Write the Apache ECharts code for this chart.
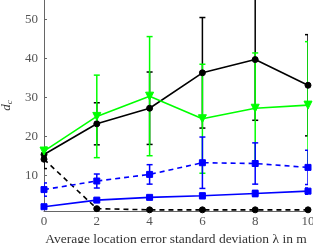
<!DOCTYPE html>
<html><head><meta charset="utf-8">
<script src="https://cdn.jsdelivr.net/npm/echarts@6/dist/echarts.min.js"></script>
<style>html,body{margin:0;padding:0;background:#fff}#c{width:313px;height:243px}</style>
</head><body><div id="c"></div>
<script>
var xs = [0, 2, 4, 6, 8, 10];
var xTicks = [0, 2, 4, 6, 8, 10];
var yTicks = [10, 20, 30, 40, 50];
var blackSolid = [15.3, 23.2, 27.2, 36.3, 39.7, 33.1];
var blackSolidErr = [1.6, 5.4, 9.3, 14.2, 15.6, 13.0];
var blackDashed = [14.1, 1.4, 1.1, 1.1, 1.1, 1.1];
var blackDashedErr = [2.4, 0.2, 0.1, 0.1, 0.1, 0.1];
var green = [16.2, 25.1, 30.3, 24.5, 27.2, 28.0];
var greenErr = [1.0, 10.6, 15.3, 14.0, 14.2, 16.3];
var blueDashed = [6.3, 8.5, 10.2, 13.2, 13.0, 12.0];
var blueDashedErr = [1.7, 1.8, 2.5, 6.6, 5.3, 4.4];
var blueSolid = [1.9, 3.6, 4.3, 4.7, 5.3, 5.9];
var blueSolidErr = [0.4, 0.4, 0.4, 0.7, 0.8, 0.8];

var serif = '"Liberation Serif", "DejaVu Serif", serif';
function pts(v){ return xs.map(function(x,i){ return [x, v[i]]; }); }
function errData(v,e){ return xs.map(function(x,i){ return [x, v[i]-e[i], v[i]+e[i]]; }); }
function errSeries(v,e,color){
  return {
    type:'custom', clip:true, z:2,
    data: errData(v,e),
    encode:{x:0,y:[1,2]},
    renderItem:function(params, api){
      var lo = api.coord([api.value(0), api.value(1)]);
      var hi = api.coord([api.value(0), api.value(2)]);
      var w = 3;
      var st = {stroke: color, lineWidth: 1.5};
      return {type:'group', children:[
        {type:'line', shape:{x1:lo[0],y1:lo[1],x2:hi[0],y2:hi[1]}, style:st},
        {type:'line', shape:{x1:lo[0]-w,y1:lo[1],x2:lo[0]+w,y2:lo[1]}, style:st},
        {type:'line', shape:{x1:hi[0]-w,y1:hi[1],x2:hi[0]+w,y2:hi[1]}, style:st}
      ]};
    }
  };
}
function lineSeries(v,color,dash,symbol,size,rot){
  return {
    type:'line', data: pts(v), symbol: symbol, symbolSize: size, symbolRotate: rot || 0, z:3,
    lineStyle:{color:color, width:1.6, type: dash ? [5,4] : 'solid'},
    itemStyle:{color:color, borderColor:color, borderWidth:1},
    animation:false
  };
}
var chart = echarts.init(document.getElementById('c'));
chart.setOption({
  animation:false,
  grid:{left:44, right:5, top:0, bottom:32, containLabel:false, outerBoundsMode:'none'},
  xAxis:{
    type:'value', min:0, max:10, interval:2,
    axisLine:{lineStyle:{color:'#666', width:1}},
    axisTick:{inside:true, length:3, lineStyle:{color:'#666'}},
    axisLabel:{color:'#555', fontFamily:serif, fontSize:13, margin:4},
    splitLine:{show:false},
    name:'Average location error standard deviation λ in m',
    nameLocation:'middle', nameGap:16,
    nameTextStyle:{color:'#333', fontFamily:serif, fontSize:13.5}
  },
  yAxis:{
    type:'value', min:0.8, max:55,
    axisLine:{show:true, lineStyle:{color:'#666', width:1}},
    axisTick:{show:true, inside:true, length:3, lineStyle:{color:'#666'}, customValues: yTicks},
    axisLabel:{color:'#555', fontFamily:serif, fontSize:13, margin:6, customValues: yTicks},
    splitLine:{show:false},
    name:'{d|d̂}{c|c}',
    nameLocation:'middle', nameGap:30, nameRotate:90,
    nameTextStyle:{rich:{
      d:{fontFamily:serif, fontStyle:'italic', fontSize:13, color:'#333'},
      c:{fontFamily:serif, fontStyle:'italic', fontSize:9, color:'#333', verticalAlign:'bottom', padding:[6,0,0,0]}
    }}
  },
  series:[
    errSeries(blackSolid, blackSolidErr, '#000'),
    lineSeries(blackSolid, '#000', false, 'circle', 6),
    errSeries(blackDashed, blackDashedErr, '#000'),
    lineSeries(blackDashed, '#000', true, 'circle', 6),
    errSeries(green, greenErr, '#00ff00'),
    lineSeries(green, '#00ff00', false, 'triangle', 8, 180),
    errSeries(blueDashed, blueDashedErr, '#0000ff'),
    lineSeries(blueDashed, '#0000ff', true, 'rect', 6),
    errSeries(blueSolid, blueSolidErr, '#0000ff'),
    lineSeries(blueSolid, '#0000ff', false, 'rect', 6)
  ]
});
</script></body></html>
